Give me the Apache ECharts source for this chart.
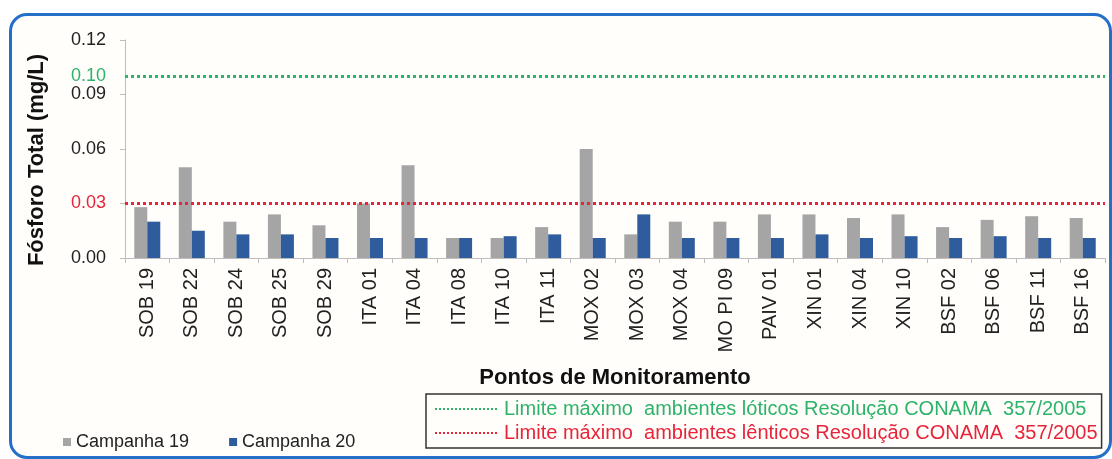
<!DOCTYPE html>
<html>
<head>
<meta charset="utf-8">
<script src="https://cdn.jsdelivr.net/npm/echarts@6/dist/echarts.min.js"></script>
<style>
  html, body { margin: 0; padding: 0; background: #fff; }
  #frame {
    position: absolute; left: 9px; top: 13px; width: 1097px; height: 440px;
    border: 3px solid #2470c8; border-radius: 18px; background: #fffefb;
  }
  #chart { position: absolute; left: 0; top: 0; width: 1112px; height: 459px; }
</style>
</head>
<body>
<div id="frame"></div>
<div id="chart"></div>
<script>
// pontos de monitoramento
var categories = ['SOB 19','SOB 22','SOB 24','SOB 25','SOB 29','ITA 01','ITA 04','ITA 08','ITA 10','ITA 11',
    'MOX 02','MOX 03','MOX 04','MO PI 09','PAIV 01','XIN 01','XIN 04','XIN 10','BSF 02','BSF 06','BSF 11','BSF 16'];
// Campanha 19 (mg/L)
var campanha19 = [0.028,0.050,0.020,0.024,0.018,0.030,0.051,0.011,0.011,0.017,
    0.060,0.013,0.020,0.020,0.024,0.024,0.022,0.024,0.017,0.021,0.023,0.022];
// Campanha 20 (mg/L)
var campanha20 = [0.020,0.015,0.013,0.013,0.011,0.011,0.011,0.011,0.012,0.013,
    0.011,0.024,0.011,0.011,0.011,0.013,0.011,0.012,0.011,0.012,0.011,0.011];
// limites CONAMA
var limiteLotico = 0.10;
var limiteLentico = 0.03;
var nomeLotico = 'Limite máximo  ambientes lóticos Resolução CONAMA  357/2005';
var nomeLentico = 'Limite máximo  ambientes lênticos Resolução CONAMA  357/2005';

var verde = '#2eb36a';
var vermelho = '#e8243a';

var myChart = echarts.init(document.getElementById('chart'));
var option = {
    backgroundColor: 'transparent',
    animation: false,
    textStyle: { fontFamily: 'Liberation Sans, Arial, sans-serif' },
    grid: { left: 125, right: 7, top: 40, bottom: 201 },
    graphic: [{
        type: 'text',
        x: 37, y: 160, rotation: Math.PI / 2,
        style: {
            text: 'Fósforo Total (mg/L)',
            font: 'bold 22px Liberation Sans, Arial, sans-serif',
            fill: '#111', align: 'center', verticalAlign: 'middle'
        }
    }],
    legend: [
        {
            left: 58, top: 428,
            itemWidth: 8, itemHeight: 8, itemGap: 40,
            icon: 'rect',
            textStyle: { fontSize: 18, color: '#222' },
            data: ['Campanha 19', 'Campanha 20']
        },
        {
            left: 426, top: 394,
            orient: 'vertical',
            borderColor: '#333', borderWidth: 1.5, borderRadius: 0,
            padding: [5, 4, 5, 8],
            itemGap: 4, itemWidth: 64, itemHeight: 10,
            itemStyle: { opacity: 0 },
            textStyle: { fontSize: 20 },
            data: [
                { name: nomeLotico, textStyle: { color: verde } },
                { name: nomeLentico, textStyle: { color: vermelho } }
            ]
        }
    ],
    xAxis: {
        type: 'category',
        data: categories,
        name: 'Pontos de Monitoramento',
        nameLocation: 'middle',
        nameGap: 109,
        nameTextStyle: { fontSize: 22, fontWeight: 'bold', color: '#111' },
        axisLine: { lineStyle: { color: '#bdbdbd' } },
        axisTick: { show: true, length: 5, lineStyle: { color: '#bdbdbd' } },
        axisLabel: { rotate: 90, fontSize: 20, color: '#222', margin: 10 }
    },
    yAxis: {
        type: 'value',
        min: 0, max: 0.12, interval: 0.03,
        axisLine: { show: true, lineStyle: { color: '#bdbdbd' } },
        axisTick: { show: true, length: 5, lineStyle: { color: '#bdbdbd' } },
        splitLine: { show: false },
        axisLabel: {
            fontSize: 18, color: '#222', margin: 19,
            formatter: function (v) {
                var s = v.toFixed(2);
                if (Math.abs(v - limiteLentico) < 1e-9) return '{r|' + s + '}';
                return s;
            },
            rich: { r: { color: vermelho, fontSize: 18 } }
        }
    },
    series: [
        {
            name: 'Campanha 19', type: 'bar', data: campanha19,
            barWidth: 13, barGap: '0%',
            itemStyle: { color: '#a5a5a5' }
        },
        {
            name: 'Campanha 20', type: 'bar', data: campanha20,
            barWidth: 13,
            itemStyle: { color: '#2e5c9c' }
        },
        {
            name: nomeLotico, type: 'line', data: [], symbol: 'none',
            color: verde,
            lineStyle: { type: 'dotted', width: 3, color: verde },
            markLine: {
                silent: true, symbol: 'none',
                lineStyle: { type: 'dotted', width: 3, color: verde },
                label: { show: true, position: 'start', distance: 19, fontSize: 18, color: verde,
                    formatter: function (p) { return p.value.toFixed(2); } },
                data: [{ yAxis: limiteLotico }]
            }
        },
        {
            name: nomeLentico, type: 'line', data: [], symbol: 'none',
            color: vermelho,
            lineStyle: { type: 'dotted', width: 3, color: vermelho },
            markLine: {
                silent: true, symbol: 'none',
                lineStyle: { type: 'dotted', width: 3, color: vermelho },
                label: { show: false },
                data: [{ yAxis: limiteLentico }]
            }
        }
    ]
};
myChart.setOption(option);
</script>
</body>
</html>
